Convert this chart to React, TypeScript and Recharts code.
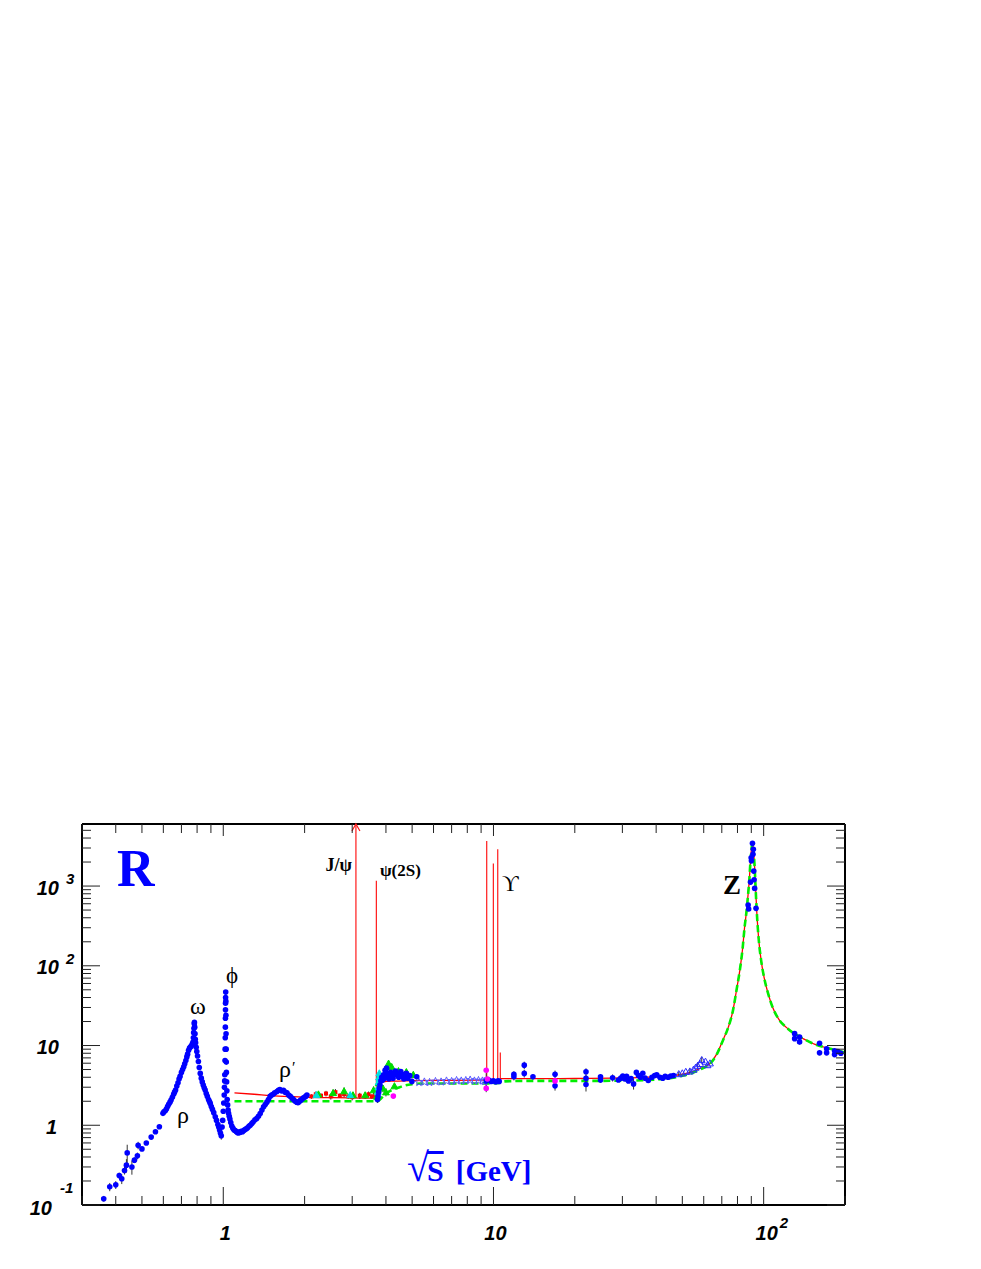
import React from 'react';
import {
  ComposedChart,
  XAxis,
  YAxis,
  Scatter,
  Line,
  ErrorBar,
  ReferenceLine,
  ReferenceDot,
} from 'recharts';

type P = [number, number, number?];

// ---------- axes ----------
const X_DOMAIN: [number, number] = [0.3, 200];
const Y_DOMAIN: [number, number] = [0.1, 6000];

const xMajorTicks = [1, 10, 100];
const xMinorTicks = [0.3, 0.4, 0.5, 0.6, 0.7, 0.8, 0.9, 2, 3, 4, 5, 6, 7, 8, 9, 20, 30, 40, 50, 60, 70, 80, 90, 200];
const xTickBase = ['1', '10', '10'];
const xTickExp = ['', '', '2'];

const yMajorTicks = [0.1, 1, 10, 100, 1000];
const yMinorTicks = [
  0.2, 0.3, 0.4, 0.5, 0.6, 0.7, 0.8, 0.9, 2, 3, 4, 5, 6, 7, 8, 9, 20, 30, 40, 50, 60, 70, 80, 90,
  200, 300, 400, 500, 600, 700, 800, 900, 2000, 3000, 4000, 5000,
];
const yTickBase = ['10', '1', '10', '10', '10'];
const yTickExp = ['-1', '', '', '2', '3'];

// ---------- data: [sqrt(s) GeV, R, error] ----------
const lowEnergyBlue: P[] = [
  [0.361, 0.12, 0.01], [0.38, 0.169, 0.02], [0.4, 0.179, 0.02], [0.412, 0.234, 0.02], [0.421, 0.213, 0.03],
  [0.431, 0.271, 0.03], [0.438, 0.316, 0.06], [0.441, 0.45, 0.12], [0.459, 0.3, 0.06], [0.469, 0.365, 0.03],
  [0.481, 0.414, 0.04], [0.484, 0.56, 0.06], [0.5, 0.505, 0.03], [0.519, 0.6], [0.541, 0.71], [0.561, 0.83],
  [0.58, 0.96], [0.598, 1.41], [0.603, 1.48], [0.61, 1.52], [0.616, 1.6], [0.622, 1.72], [0.628, 1.83],
  [0.635, 1.95], [0.641, 2.07], [0.648, 2.25], [0.655, 2.45], [0.66, 2.6], [0.666, 2.76], [0.673, 3.1],
  [0.68, 3.41], [0.686, 3.8], [0.692, 4.1], [0.7, 4.6], [0.707, 5.0], [0.714, 5.4], [0.72, 5.9], [0.727, 6.5],
  [0.733, 7.2], [0.738, 7.8], [0.744, 8.7], [0.75, 9.3], [0.756, 9.6], [0.762, 9.9], [0.768, 10.4],
  [0.772, 11.0], [0.775, 12.5], [0.777, 14.5], [0.779, 16.5], [0.781, 18.8], [0.782, 19.5], [0.784, 17],
  [0.786, 14], [0.788, 12], [0.79, 10.8], [0.794, 9.5], [0.798, 8.4], [0.803, 7.4], [0.809, 6.3], [0.815, 5.3],
  [0.822, 4.47], [0.829, 3.9], [0.836, 3.5], [0.843, 3.2], [0.85, 2.95], [0.857, 2.76], [0.865, 2.5],
  [0.873, 2.3], [0.882, 2.1], [0.889, 1.98], [0.895, 1.88], [0.903, 1.72], [0.912, 1.58], [0.922, 1.44],
  [0.934, 1.28], [0.944, 1.15], [0.955, 1.02], [0.962, 0.95], [0.969, 0.87], [0.976, 0.8], [0.983, 0.74, 0.08],
];

const phiRegionBlue: P[] = [
  [0.99, 0.95], [0.995, 1.15], [1.0, 1.5], [1.004, 1.9], [1.008, 2.4], [1.01, 3.0], [1.012, 3.6], [1.013, 4.3],
  [1.015, 6.5], [1.016, 9], [1.017, 12.5], [1.018, 17], [1.0185, 22], [1.019, 28], [1.0195, 34], [1.02, 40],
  [1.021, 46.8], [1.022, 36], [1.023, 24], [1.024, 14], [1.025, 9], [1.026, 6.2], [1.027, 4.6], [1.029, 3.5],
  [1.031, 2.7], [1.034, 2.1], [1.038, 1.8], [1.042, 1.55], [1.046, 1.41], [1.052, 1.3], [1.058, 1.2],
  [1.066, 1.08], [1.075, 0.98], [1.085, 0.92], [1.095, 0.88], [1.105, 0.86], [1.115, 0.84], [1.125, 0.82],
  [1.135, 0.8], [1.145, 0.82], [1.155, 0.81], [1.165, 0.84], [1.178, 0.83], [1.19, 0.86], [1.2, 0.88],
  [1.215, 0.9], [1.23, 0.93], [1.245, 0.97], [1.258, 1.0], [1.275, 1.05], [1.29, 1.1], [1.31, 1.17],
  [1.33, 1.22], [1.35, 1.3], [1.37, 1.4], [1.39, 1.55], [1.41, 1.71], [1.43, 1.82], [1.45, 1.95], [1.47, 2.1],
  [1.49, 2.3], [1.51, 2.4], [1.53, 2.45], [1.55, 2.55], [1.58, 2.65], [1.6, 2.75], [1.62, 2.8], [1.645, 2.7],
  [1.67, 2.75], [1.695, 2.6], [1.72, 2.55], [1.745, 2.4], [1.77, 2.3], [1.795, 2.2], [1.82, 2.1],
  [1.845, 2.0], [1.87, 1.95], [1.89, 1.92], [1.91, 1.98], [1.93, 2.05], [1.95, 2.1], [1.975, 2.2],
  [2.0, 2.25], [2.02, 2.3], [2.04, 2.4],
];

const charmBlue: P[] = [
  [3.72, 2.1, 0.2], [3.74, 2.3], [3.76, 2.6, 0.3], [3.78, 2.9], [3.8, 3.2, 0.3], [3.83, 3.6], [3.86, 4.0, 0.4],
  [3.89, 3.7], [3.92, 4.3], [3.95, 3.9], [3.97, 4.9, 0.5], [4.0, 4.5], [4.02, 5.2, 0.5], [4.05, 4.4],
  [4.08, 4.0], [4.1, 3.8], [4.13, 4.2, 0.4], [4.16, 4.6], [4.19, 4.4], [4.22, 4.1], [4.25, 3.9], [4.28, 4.3],
  [4.31, 4.6, 0.4], [4.34, 4.8], [4.38, 4.5], [4.42, 4.2], [4.46, 4.0], [4.5, 4.3], [4.54, 4.7], [4.58, 4.4],
  [4.62, 4.1], [4.66, 3.8], [4.7, 4.3, 0.4], [4.76, 4.5], [4.82, 3.9], [4.9, 4.2], [4.99, 3.55, 0.3],
  [5.2, 4.05, 0.3],
];

const starBlue: P[] = [
  [5.3, 3.45], [5.55, 3.5], [5.8, 3.45], [6.1, 3.55], [6.4, 3.5], [6.7, 3.6], [7.0, 3.55], [7.3, 3.65],
  [7.6, 3.6], [7.9, 3.65], [8.2, 3.7], [8.5, 3.6], [8.8, 3.65], [9.1, 3.6], [9.25, 3.55],
];

const continuumBlue: P[] = [
  [9.4, 3.6, 0.9], [9.6, 3.7], [9.8, 3.55], [10.0, 3.6], [10.2, 3.5], [10.4, 3.6], [10.5, 3.55],
  [11.9, 4.35, 0.4], [11.9, 4.05, 0.4], [13.0, 5.67, 0.6], [13.0, 4.47, 0.5], [14.0, 4.05, 0.3],
  [16.9, 4.35, 0.5], [16.9, 3.12, 0.4], [22.0, 4.68, 0.5], [22.0, 3.87, 0.4], [22.0, 3.25, 0.6],
  [24.9, 4.05, 0.3], [24.9, 3.7, 0.3], [27.6, 3.94, 0.4], [29.0, 3.7], [29.6, 3.9, 0.3], [30.1, 4.15],
  [30.6, 3.8], [31.1, 4.1, 0.3], [31.6, 3.6], [32.3, 3.85], [33.0, 3.3, 0.5], [33.8, 4.6], [34.4, 4.2],
  [35.0, 4.0, 0.3], [35.7, 4.5], [36.4, 3.9], [37.4, 3.65], [38.6, 4.0], [39.5, 4.2], [40.2, 4.3],
  [41.3, 4.0], [42.3, 3.9], [43.2, 4.1], [44.3, 4.0], [45.3, 4.15], [46.4, 4.2],
];

const triangleBlue: P[] = [
  [48.5, 4.4, 0.3], [50, 4.5], [51.5, 4.7], [53.3, 4.75, 0.4], [55, 5.0], [56, 5.3], [57, 5.6, 0.5],
  [58.2, 5.9], [59, 6.6, 0.6], [60.9, 6.3], [62, 5.7], [63.3, 6.0],
];

const zRegionBlue: P[] = [
  [87.6, 577, 30], [88.0, 515, 30], [89.4, 1120, 50], [89.9, 2260, 80], [90.1, 2070, 80], [90.9, 3430, 120],
  [91.3, 2500, 100], [91.6, 2900, 100], [91.9, 1540, 60], [92.2, 1200, 50], [92.6, 935, 40], [93.7, 525, 30],
  [130.2, 14.1, 0.8], [130.2, 12.2, 0.8], [135.8, 12.8, 0.8], [135.8, 11.1, 0.8], [161, 10.7, 0.6],
  [161, 8.1, 0.6], [171, 9.1, 0.6], [171, 8.1, 0.6], [183, 8.6, 0.5], [183, 7.7, 0.5], [188, 8.4, 0.5],
  [193, 8.0, 0.5],
];

const redMarkers: P[] = [
  [2.12, 2.3, 0.15], [2.2, 2.45, 0.2], [2.3, 2.35, 0.15], [2.4, 2.5, 0.2], [2.5, 2.3, 0.2], [2.6, 2.6, 0.25],
  [2.7, 2.35, 0.15], [2.8, 2.45, 0.2], [2.9, 2.3, 0.15], [3.0, 2.25, 0.2], [3.2, 2.35, 0.2], [3.35, 2.3, 0.15],
  [3.45, 2.45, 0.2], [3.55, 2.3, 0.15], [3.65, 2.35, 0.2], [3.72, 2.6, 0.3], [3.74, 3.2, 0.3],
];

const greenMarkers: P[] = [
  [2.25, 2.45, 0.2], [2.55, 2.55, 0.25], [2.8, 2.68, 0.3], [3.02, 2.39, 0.2], [3.35, 2.39, 0.2],
  [3.6, 2.76, 0.3], [3.7, 2.3, 0.3], [3.76, 3.4, 0.4], [3.9, 2.9, 0.3], [4.0, 2.6, 0.3], [4.09, 5.96, 0.6],
  [4.2, 5.4, 0.5], [4.3, 3.1], [4.45, 4.8, 0.4], [4.76, 4.67, 0.4], [5.05, 4.3, 0.4],
];

const cyanMarkers: P[] = [
  [2.21, 2.4], [2.95, 2.4], [3.73, 2.6], [3.75, 3.0], [3.76, 3.5], [3.77, 4.0], [3.78, 4.5], [3.79, 3.8],
];

const magentaMarkers: P[] = [[4.26, 2.32], [9.4, 4.9, 0.3], [9.4, 2.9, 0.3], [9.5, 3.8], [16.9, 3.6]];

// theory curves
const qcdCurve: P[] = [
  [1.1, 2.55], [1.3, 2.45], [1.5, 2.35], [1.8, 2.28], [2.1, 2.24], [2.5, 2.22], [3.0, 2.2], [3.5, 2.19],
  [3.7, 2.2], [3.73, 2.6], [3.76, 3.1], [3.8, 3.35], [3.9, 3.5], [4.2, 3.58], [5.0, 3.62], [7.0, 3.66],
  [10.5, 3.7], [10.7, 3.85], [15, 3.85], [20, 3.86], [30, 3.92], [40, 4.05], [45, 4.15], [48.9, 4.3],
  [55, 4.75], [58.2, 5.16], [63.3, 5.96], [67, 7.8], [70.6, 11.6], [74, 17], [77, 27.6], [79.3, 49],
  [81.6, 87.6], [83.5, 160], [85.0, 304], [86.5, 500], [87.6, 794], [88.5, 1200], [89.4, 2080], [90.1, 2900],
  [90.9, 3430], [91.6, 2900], [92.6, 1720], [93.4, 915], [94.4, 447], [95.8, 220], [97.9, 116], [100.5, 70],
  [103.9, 44.7], [108, 30], [114.5, 20.7], [121, 17], [128.6, 14.4], [140, 12.2], [152, 10.6], [175, 9.2],
  [200, 8.2],
];

const partonCurve: P[] = [
  [1.1, 2.0], [3.72, 2.0], [3.8, 2.1], [3.9, 2.3], [4.0, 2.5], [4.15, 2.7], [4.3, 2.85], [4.5, 3.0],
  [4.7, 3.15], [5.0, 3.27], [5.4, 3.33], [9.4, 3.35], [10.5, 3.4], [11.0, 3.55], [13, 3.6], [20, 3.6],
  [30, 3.62], [40, 3.75], [45, 3.9], [48.9, 4.1], [55, 4.6], [58.2, 5.0], [63.3, 5.9], [67, 7.7],
  [70.6, 11.5], [74, 17], [77, 27.6], [79.3, 49], [81.6, 87.6], [83.5, 160], [85.0, 304], [86.5, 500],
  [87.6, 794], [88.5, 1200], [89.4, 2080], [90.1, 2900], [90.9, 3400], [91.6, 2900], [92.6, 1720],
  [93.4, 915], [94.4, 447], [95.8, 220], [97.9, 116], [100.5, 70], [103.9, 44.7], [108, 30], [114.5, 20.7],
  [121, 17], [128.6, 14.4], [140, 12.2], [152, 10.6], [175, 9.2], [200, 8.2],
];

// narrow resonances drawn as red spikes
const resonanceMass = [3.097, 3.686, 9.44, 9.99, 10.37, 10.6];
const resonanceBase = [2.2, 2.2, 3.7, 3.7, 3.7, 3.8];
const resonancePeak = [6000, 1165, 3680, 1917, 2900, 8.2];

// annotations anchored at [sqrt(s), R]
const annotationText = ['R', 'J/ψ', 'ψ(2S)', 'ϒ', 'Z', 'ω', 'ϕ', 'ρ', 'ρ'];
const annotationS = [0.404, 2.995, 3.8, 10.75, 70.7, 0.753, 1.023, 0.674, 1.607];
const annotationR = [1001, 1544, 1336, 867, 795, 24.8, 60.8, 1.083, 4.03];

const toPts = (a: P[]) => a.map(([s, r, e]) => ({ s, r, e: e ?? 0 }));

// ---------- styling ----------
const BLUE = '#0000ff';
const SERIF = '"Liberation Serif", "Times New Roman", serif';
const SANS = '"Liberation Sans", Arial, sans-serif';

const circle = (color: string, rad = 2.8) => (p: any) =>
  p.cx == null ? <g /> : <circle cx={p.cx} cy={p.cy} r={rad} fill={color} />;

const triangle = (color: string, sz = 3.4, open = false) => (p: any) =>
  p.cx == null ? <g /> : (
    <polygon
      points={`${p.cx},${p.cy - sz} ${p.cx - sz},${p.cy + sz * 0.8} ${p.cx + sz},${p.cy + sz * 0.8}`}
      fill={open ? 'none' : color}
      stroke={color}
      strokeWidth={1}
    />
  );

const square = (color: string, sz = 2) => (p: any) =>
  p.cx == null ? <g /> : <rect x={p.cx - sz} y={p.cy - sz} width={sz * 2} height={sz * 2} fill={color} />;

const star = (color: string) => (p: any) => {
  if (p.cx == null) return <g />;
  const pts: string[] = [];
  for (let i = 0; i < 10; i++) {
    const a = -Math.PI / 2 + (i * Math.PI) / 5;
    const rr = i % 2 === 0 ? 4 : 1.8;
    pts.push(`${p.cx + rr * Math.cos(a)},${p.cy + rr * Math.sin(a)}`);
  }
  return <polygon points={pts.join(' ')} fill="none" stroke={color} strokeWidth={1} />;
};

const tickFont = { fontFamily: SANS, fontWeight: 700, fontStyle: 'italic' as const, fill: '#000' };

function BottomTick(props: any) {
  const { x, y, payload } = props;
  const i = xMajorTicks.indexOf(payload.value);
  const major = i >= 0;
  return (
    <g>
      <line x1={x} x2={x} y1={y} y2={y - (major ? 18 : 9)} stroke="#222" strokeWidth={1} />
      {major && xTickExp[i] === '' && (
        <text x={x + 2} y={y + 35} textAnchor="middle" fontSize={20} {...tickFont}>
          {xTickBase[i]}
        </text>
      )}
      {major && xTickExp[i] !== '' && (
        <g>
          <text x={x + 3} y={y + 35} textAnchor="middle" fontSize={20} {...tickFont}>
            {xTickBase[i]}
          </text>
          <text x={x + 16} y={y + 23} textAnchor="start" fontSize={15} {...tickFont}>
            {xTickExp[i]}
          </text>
        </g>
      )}
    </g>
  );
}

function TopTick(props: any) {
  const { x, y, payload } = props;
  const major = xMajorTicks.includes(payload.value);
  return <line x1={x} x2={x} y1={y} y2={y + (major ? 12 : 9)} stroke="#222" strokeWidth={1} />;
}

function LeftTick(props: any) {
  const { x, y, payload } = props;
  const i = yMajorTicks.indexOf(payload.value);
  const major = i >= 0;
  let label: React.ReactNode = null;
  if (major) {
    const base = yTickBase[i];
    const exp = yTickExp[i];
    if (exp === '-1') {
      label = (
        <g>
          <text x={x - 30} y={y + 10} textAnchor="end" fontSize={20} {...tickFont}>{base}</text>
          <text x={x - 22} y={y - 12} textAnchor="start" fontSize={15} {...tickFont}>{exp}</text>
        </g>
      );
    } else if (exp !== '') {
      label = (
        <g>
          <text x={x - 23} y={y + 8.5} textAnchor="end" fontSize={20} {...tickFont}>{base}</text>
          <text x={x - 16} y={y - 2} textAnchor="start" fontSize={15} {...tickFont}>{exp}</text>
        </g>
      );
    } else {
      label = (
        <text x={x - (base === '1' ? 25 : 23)} y={y + 8.5} textAnchor="end" fontSize={20} {...tickFont}>
          {base}
        </text>
      );
    }
  }
  return (
    <g>
      <line x1={x} x2={x + (major ? 18 : 9)} y1={y} y2={y} stroke="#222" strokeWidth={1} />
      {label}
    </g>
  );
}

function RightTick(props: any) {
  const { x, y, payload } = props;
  const major = yMajorTicks.includes(payload.value);
  return <line x1={x} x2={x - (major ? 18 : 9)} y1={y} y2={y} stroke="#222" strokeWidth={1} />;
}

const annotationStyle = [
  { fontFamily: SERIF, fontSize: 52, fontWeight: 700, fill: BLUE, anchor: 'start' },
  { fontFamily: SERIF, fontSize: 18, fontWeight: 700, fill: '#000', anchor: 'end' },
  { fontFamily: SERIF, fontSize: 17, fontWeight: 700, fill: '#000', anchor: 'start' },
  { fontFamily: SERIF, fontSize: 23, fontWeight: 400, fill: '#000', anchor: 'start' },
  { fontFamily: SERIF, fontSize: 27, fontWeight: 700, fill: '#000', anchor: 'start' },
  { fontFamily: SERIF, fontSize: 24, fontWeight: 400, fill: '#000', anchor: 'start' },
  { fontFamily: SERIF, fontSize: 23, fontWeight: 400, fill: '#000', anchor: 'start' },
  { fontFamily: SERIF, fontSize: 24, fontWeight: 400, fill: '#000', anchor: 'start' },
  { fontFamily: SERIF, fontSize: 24, fontWeight: 400, fill: '#000', anchor: 'start' },
];

const AX = { xAxisId: 'b', yAxisId: 'l' };

export default function App() {
  const errBar = <ErrorBar dataKey="e" direction="y" width={0} stroke="#333" strokeWidth={1} />;
  const xTicks = [...xMinorTicks, ...xMajorTicks].sort((a, b) => a - b);
  const yTicks = [...yMinorTicks, ...yMajorTicks].sort((a, b) => a - b);
  return (
    <div style={{ position: 'absolute', left: 0, top: 0, width: 981, height: 1269, background: '#fff' }}>
      <ComposedChart width={981} height={1269} margin={{ top: 823, right: 135, bottom: 0, left: 0 }}>
        <XAxis
          xAxisId="b"
          dataKey="s"
          type="number"
          scale="log"
          domain={X_DOMAIN}
          allowDataOverflow
          ticks={xTicks}
          interval={0}
          height={64}
          tickSize={0}
          tickMargin={0}
          tickLine={false}
          axisLine={{ stroke: '#000', strokeWidth: 2 }}
          tick={(p: any) => <BottomTick {...p} />}
        />
        <XAxis
          xAxisId="t"
          orientation="top"
          dataKey="s"
          type="number"
          scale="log"
          domain={X_DOMAIN}
          allowDataOverflow
          ticks={xTicks}
          interval={0}
          height={1}
          tickSize={0}
          tickMargin={0}
          tickLine={false}
          axisLine={{ stroke: '#000', strokeWidth: 2 }}
          tick={(p: any) => <TopTick {...p} />}
        />
        <YAxis
          yAxisId="l"
          dataKey="r"
          type="number"
          scale="log"
          domain={Y_DOMAIN}
          allowDataOverflow
          ticks={yTicks}
          interval={0}
          width={82}
          tickSize={0}
          tickMargin={0}
          tickLine={false}
          axisLine={{ stroke: '#000', strokeWidth: 2 }}
          tick={(p: any) => <LeftTick {...p} />}
        />
        <YAxis
          yAxisId="r"
          orientation="right"
          dataKey="r"
          type="number"
          scale="log"
          domain={Y_DOMAIN}
          allowDataOverflow
          ticks={yTicks}
          interval={0}
          width={1}
          tickSize={0}
          tickMargin={0}
          tickLine={false}
          axisLine={{ stroke: '#000', strokeWidth: 2 }}
          tick={(p: any) => <RightTick {...p} />}
        />

        {resonanceMass.map((m, i) => (
          <ReferenceLine
            key={`res${i}`}
            {...AX}
            segment={[{ x: m, y: resonanceBase[i] }, { x: m, y: resonancePeak[i] }]}
            stroke="#ff1a1a"
            strokeWidth={1.2}
            ifOverflow="visible"
          />
        ))}
        <ReferenceDot
          {...AX}
          x={resonanceMass[0]}
          y={resonancePeak[0]}
          r={0}
          ifOverflow="visible"
          shape={(p: any) => (
            <polyline
              points={`${p.cx - 4},${p.cy + 7} ${p.cx},${p.cy} ${p.cx + 4},${p.cy + 7}`}
              fill="none"
              stroke="#ff1a1a"
              strokeWidth={1.2}
            />
          )}
        />

        <Line
          {...AX}
          data={toPts(qcdCurve)}
          dataKey="r"
          type="monotone"
          stroke="#ff0000"
          strokeWidth={1.3}
          dot={false}
          isAnimationActive={false}
        />
        <Line
          {...AX}
          data={toPts(partonCurve)}
          dataKey="r"
          type="monotone"
          stroke="#00ee00"
          strokeWidth={2.6}
          strokeDasharray="7 4"
          dot={false}
          isAnimationActive={false}
        />

        <Scatter {...AX} data={toPts(redMarkers)} dataKey="r" shape={square('#ff0000')} isAnimationActive={false}>
          {errBar}
        </Scatter>
        <Scatter {...AX} data={toPts(greenMarkers)} dataKey="r" shape={triangle('#00dd00')} isAnimationActive={false}>
          {errBar}
        </Scatter>
        <Scatter {...AX} data={toPts(cyanMarkers)} dataKey="r" shape={triangle('#00e0e0')} isAnimationActive={false}>
          {errBar}
        </Scatter>
        <Scatter {...AX} data={toPts(starBlue)} dataKey="r" shape={star('#5a5aff')} isAnimationActive={false}>
          {errBar}
        </Scatter>
        <Scatter {...AX} data={toPts(lowEnergyBlue)} dataKey="r" shape={circle(BLUE)} isAnimationActive={false}>
          {errBar}
        </Scatter>
        <Scatter {...AX} data={toPts(phiRegionBlue)} dataKey="r" shape={circle(BLUE)} isAnimationActive={false}>
          {errBar}
        </Scatter>
        <Scatter {...AX} data={toPts(charmBlue)} dataKey="r" shape={circle(BLUE)} isAnimationActive={false}>
          {errBar}
        </Scatter>
        <Scatter {...AX} data={toPts(continuumBlue)} dataKey="r" shape={circle(BLUE)} isAnimationActive={false}>
          {errBar}
        </Scatter>
        <Scatter {...AX} data={toPts(triangleBlue)} dataKey="r" shape={triangle('#2a2aff', 3.4, true)} isAnimationActive={false}>
          {errBar}
        </Scatter>
        <Scatter {...AX} data={toPts(zRegionBlue)} dataKey="r" shape={circle(BLUE)} isAnimationActive={false}>
          {errBar}
        </Scatter>
        <Scatter {...AX} data={toPts(magentaMarkers)} dataKey="r" shape={circle('#ff00ff')} isAnimationActive={false}>
          {errBar}
        </Scatter>

        {annotationText.map((t, i) => {
          const st = annotationStyle[i];
          return (
            <ReferenceDot
              key={`ann${i}`}
              {...AX}
              x={annotationS[i]}
              y={annotationR[i]}
              r={0}
              ifOverflow="visible"
              shape={(p: any) => (
                <text
                  x={p.cx}
                  y={p.cy}
                  textAnchor={st.anchor as any}
                  fontFamily={st.fontFamily}
                  fontSize={st.fontSize}
                  fontWeight={st.fontWeight}
                  fill={st.fill}
                >
                  {t}
                  {i === 8 && (
                    <tspan fontSize={16} dx={1} dy={-4}>
                      ′
                    </tspan>
                  )}
                </text>
              )}
            />
          );
        })}
        <ReferenceDot
          {...AX}
          x={4.79}
          y={0.2}
          r={0}
          ifOverflow="visible"
          shape={(p: any) => (
            <text x={p.cx} y={p.cy} fontFamily={SERIF} fontWeight={700} fill={BLUE}>
              <tspan fontSize={40}>√</tspan>
              <tspan fontSize={30} dx={-2} style={{ textDecoration: 'overline' }}>S</tspan>
              <tspan fontSize={29} dx={12}>[GeV]</tspan>
            </text>
          )}
        />
      </ComposedChart>
    </div>
  );
}
